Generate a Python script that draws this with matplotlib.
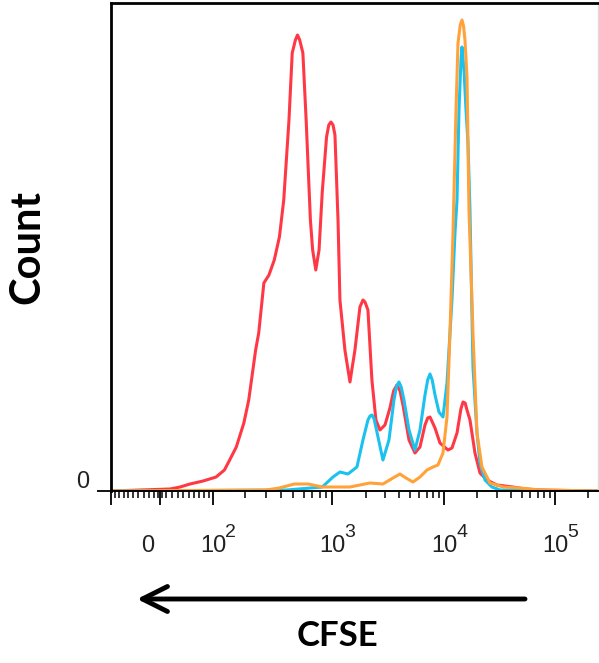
import numpy as np
import matplotlib
matplotlib.use("Agg")
import matplotlib.pyplot as plt
from matplotlib.patches import FancyArrowPatch
from matplotlib.transforms import blended_transform_factory, ScaledTranslation
from matplotlib.ticker import FixedLocator, NullFormatter

# ---------------- data (CFSE intensity, event count) ----------------
red_cfse = [-100, 17, 34, 52, 78, 108, 131, 147, 169, 197, 217, 248, 263, 290, 319, 352,
            387, 419, 461, 489, 518, 538, 560, 593, 629, 679, 707, 748, 793, 840, 907,
            944, 981, 1021, 1063, 1132, 1178, 1305, 1448, 1604, 1778, 1892, 1972, 2096,
            2274, 2470, 2683, 2974, 3294, 3550, 3802, 4050, 4305, 4873, 5508, 6105, 6767,
            7150, 7499, 8313, 9204, 10860, 11800, 13100, 14200, 14830, 15500, 16110,
            17140, 19010, 21090, 24380, 30000, 41880, 53700, 73300, 244000]
red_count = [0, 2, 4, 7, 10, 14, 21, 31, 44, 68, 91, 141, 158, 208, 216, 231,
             254, 291, 371, 438, 451, 456, 451, 438, 371, 271, 241, 221, 241, 299, 354,
             366, 369, 366, 356, 271, 191, 141, 109, 141, 184, 191, 189, 181,
             111, 71, 61, 66, 83, 100, 106, 100, 86, 51, 38, 44, 66,
             73, 74, 63, 48, 41, 43, 58, 82, 89, 88, 81,
             71, 38, 18, 11, 6, 4, 2, 1, 0]

cyan_cfse = [-100, 443, 840, 1021, 1178, 1389, 1671, 1892, 2096, 2190, 2274, 2380, 2521,
             2852, 3228, 3578, 3780, 3966, 4150, 4395, 4873, 5508, 6105, 6767, 7150, 7499,
             7850, 8313, 9016, 9795, 10640, 11800, 12560, 13100, 13650, 14220, 14520,
             15140, 15780, 16450, 17140, 18240, 19820, 21090, 23390, 27040, 32000, 244000]
cyan_count = [0, 1, 4, 14, 19, 17, 24, 51, 71, 75, 76, 72, 59,
              31, 51, 91, 105, 109, 104, 91, 61, 41, 61, 96, 111, 117,
              111, 96, 79, 74, 108, 191, 258, 291, 381, 431, 444,
              421, 381, 348, 281, 124, 58, 28, 11, 4, 1, 0]

orange_cfse = [-100, 301, 387, 508, 653, 840, 1108, 1448, 1778, 2183, 2852, 3505, 4046,
               4581, 5284, 6105, 7052, 7980, 8832, 9795, 10640, 11320, 12050, 12830,
               13370, 14000, 14520, 15000, 15450, 16110, 16790, 17490, 18240, 19820,
               21980, 25940, 34040, 48420, 73300, 244000]
orange_count = [0, 1, 3, 7, 7, 4, 4, 4, 6, 8, 7, 13, 17,
                13, 9, 14, 21, 24, 26, 38, 74, 158, 258, 381,
                448, 466, 471, 465, 451, 414, 281, 221, 158, 58,
                24, 8, 4, 3, 1, 0]

x_major = [-100, 0, 100, 1000, 10000, 100000]
x_minor = ([-v for v in range(10, 100, 10)] + [-4, 4] + list(range(10, 100, 10))
           + list(range(200, 1000, 100)) + list(range(2000, 10000, 1000))
           + list(range(20000, 100000, 10000)) + [200000])
x_decade_labels = [(100, "2"), (1000, "3"), (10000, "4"), (100000, "5")]

# ---------------- logicle-like axis scale ----------------
A = 100.0
KV = np.array([-1e4, -100, 0, 100, 1e3, 1e4, 1e5, 1e6])
KU = np.arcsinh(KV / A)
KP = np.array([-134.6, 111, 160, 213, 332, 444, 555, 666])

def fwd(x):
    return np.interp(np.arcsinh(np.asarray(x, float) / A), KU, KP)

def inv(p):
    return A * np.sinh(np.interp(np.asarray(p, float), KP, KU))

W, H = 599, 663
fig = plt.figure(figsize=(W / 100, H / 100), dpi=100)
ax = fig.add_axes([111 / W, (H - 491) / H, (598 - 111) / W, (491 - 3) / H])
ax.set_xscale("function", functions=(fwd, inv))

kw = dict(lw=2.2, solid_joinstyle="round", solid_capstyle="round")
ax.plot(red_cfse, red_count, color="#FF3845", **kw)
ax.plot(cyan_cfse, cyan_count, color="#1CC2EE", **kw)
ax.plot(orange_cfse, orange_count, color="#FFA23A", **kw)

ax.set_xlim(-100, 244000)
ax.set_ylim(0, 488)

ax.xaxis.set_major_locator(FixedLocator(x_major))
ax.xaxis.set_minor_locator(FixedLocator(x_minor))
ax.xaxis.set_major_formatter(NullFormatter())
ax.xaxis.set_minor_formatter(NullFormatter())
ax.tick_params(axis="x", which="major", direction="out", length=10, width=1.3, color="black")
ax.tick_params(axis="x", which="minor", direction="out", length=5, width=1.1, color="black")
ax.set_yticks([0])
ax.set_yticklabels([])
ax.tick_params(axis="y", which="major", direction="out", length=10, width=1.3, color="black")

for side in ["top", "left"]:
    ax.spines[side].set_linewidth(2.0)
    ax.spines[side].set_color("black")
ax.spines["bottom"].set_linewidth(1.4)
ax.spines["bottom"].set_color("black")
ax.spines["right"].set_linewidth(1.0)
ax.spines["right"].set_color("#dcdcdc")

# tick labels
tickfont = "Liberation Sans"
bt = blended_transform_factory(ax.transData, fig.transFigure)
ybase = 1 - 552 / H
for val, exp in x_decade_labels:
    ax.text(val, ybase, "10", transform=bt, ha="center", va="baseline",
            fontsize=17, family=tickfont, color="#222222")
    ax.text(val, 1 - 537 / H, exp,
            transform=bt + ScaledTranslation(0.125, 0, fig.dpi_scale_trans),
            ha="left", va="baseline", fontsize=14, family=tickfont, color="#222222")
ax.text(0, ybase, "0", transform=bt + ScaledTranslation(-0.12, 0, fig.dpi_scale_trans),
        ha="center", va="baseline", fontsize=17, family=tickfont, color="#222222")
fig.text(83 / W, 1 - 482 / H, "0", ha="center", va="center", fontsize=17,
         family=tickfont, color="#222222")

# axis titles
fig.text(27 / W, 1 - 247 / H, "Count", rotation=90, ha="center", va="center",
         fontsize=30, fontweight="bold", family="Lato")
fig.text(337 / W, 1 - 636 / H, "CFSE", ha="center", va="center",
         fontsize=25, fontweight="bold", family="Lato")

arrow = FancyArrowPatch((525 / W, 1 - 599 / H), (137 / W, 1 - 599 / H),
                        transform=fig.transFigure,
                        arrowstyle="->,head_length=0.9,head_width=0.45",
                        mutation_scale=20, lw=3.5, color="black",
                        shrinkA=0, shrinkB=0)
fig.patches.append(arrow)

fig.savefig("out.png", dpi=100)
